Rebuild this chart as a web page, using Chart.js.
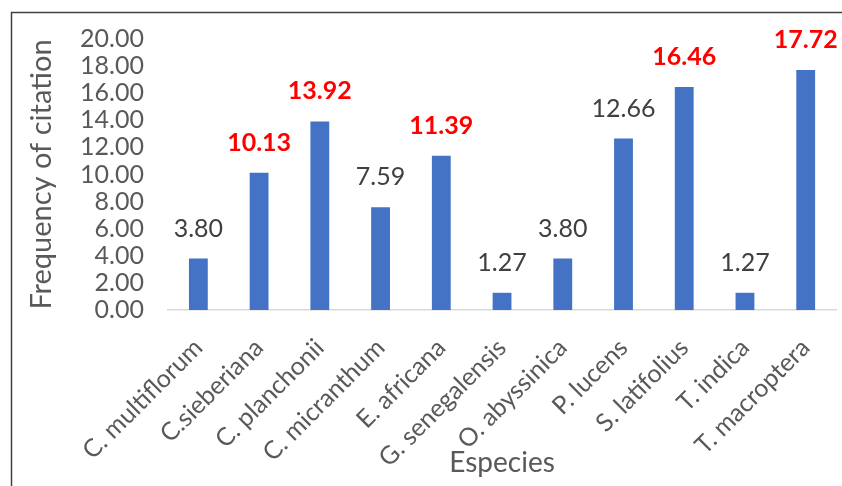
<!DOCTYPE html>
<html>
<head>
<meta charset="utf-8">
<script src="https://cdn.jsdelivr.net/npm/chart.js@4/dist/chart.umd.min.js"></script>
<style>
  html, body { margin: 0; padding: 0; background: #fff; }
  #wrap { width: 842px; height: 486px; position: relative; }
</style>
</head>
<body>
<div id="wrap"><canvas id="c" width="842" height="486"></canvas></div>
<script>
const categories = ["C. multiflorum", "C.sieberiana", "C. planchonii", "C. micranthum", "E. africana",
  "G. senegalensis", "O. abyssinica", "P. lucens", "S. latifolius", "T. indica", "T. macroptera"];
const frequencies = [3.80, 10.13, 13.92, 7.59, 11.39, 1.27, 3.80, 12.66, 16.46, 1.27, 17.72];
const highlighted = [false, true, true, false, true, false, false, false, true, false, true];
const yTicks = [0, 2, 4, 6, 8, 10, 12, 14, 16, 18, 20];

const FONT = "Lato, 'Liberation Sans', sans-serif";

const frame = {
  id: 'frame',
  beforeDraw(chart) {
    const ctx = chart.ctx;
    ctx.save();
    ctx.fillStyle = '#fff';
    ctx.fillRect(0, 0, chart.width, chart.height);
    ctx.strokeStyle = '#404040';
    ctx.lineWidth = 1.5;
    ctx.beginPath();
    ctx.moveTo(11.5, chart.height);
    ctx.lineTo(11.5, 12.5);
    ctx.lineTo(chart.width, 12.5);
    ctx.stroke();
    ctx.restore();
  }
};

const valueLabels = {
  id: 'valueLabels',
  afterDatasetsDraw(chart) {
    const ctx = chart.ctx;
    const meta = chart.getDatasetMeta(0);
    ctx.save();
    ctx.textAlign = 'center';
    ctx.textBaseline = 'middle';
    meta.data.forEach((bar, i) => {
      const hi = highlighted[i];
      ctx.font = (hi ? 'bold ' : '') + '25px ' + FONT;
      ctx.fillStyle = hi ? '#FF0000' : '#404040';
      ctx.fillText(frequencies[i].toFixed(2), bar.x, bar.y - 30);
    });
    ctx.restore();
  }
};

new Chart(document.getElementById('c'), {
  type: 'bar',
  data: {
    labels: categories,
    datasets: [{
      data: frequencies,
      backgroundColor: '#4472C4',
      borderWidth: 0,
      barPercentage: 0.31,
      categoryPercentage: 1.0
    }]
  },
  options: {
    responsive: false,
    animation: false,
    devicePixelRatio: 1,
    layout: { padding: { left: 24, right: 2, top: 38, bottom: 6 } },
    plugins: { legend: { display: false }, tooltip: { enabled: false } },
    scales: {
      x: {
        grid: { display: false },
        border: { display: true, color: '#d9d9d9', width: 1.5 },
        ticks: {
          color: '#595959',
          font: { family: FONT, size: 25 },
          maxRotation: 45, minRotation: 45,
          padding: 15,
          autoSkip: false
        },
        title: {
          display: true, text: 'Especies', color: '#595959',
          font: { family: FONT, size: 28 },
          padding: { top: 0, bottom: 0 }
        },
        afterFit(scale) { scale.height = 170; }
      },
      y: {
        min: 0, max: 20,
        afterBuildTicks(scale) { scale.ticks = yTicks.map(v => ({ value: v })); },
        grid: { display: false, drawTicks: false },
        border: { display: false },
        ticks: {
          color: '#595959',
          font: { family: FONT, size: 25 },
          padding: 24,
          autoSkip: false,
          callback: v => Number(v).toFixed(2)
        },
        title: {
          display: true, text: 'Frequency of citation', color: '#595959',
          font: { family: FONT, size: 29 },
          padding: { top: 0, bottom: 0 }
        },
        afterFit(scale) { scale.width = 144; }
      }
    }
  },
  plugins: [frame, valueLabels]
});
</script>
</body>
</html>
